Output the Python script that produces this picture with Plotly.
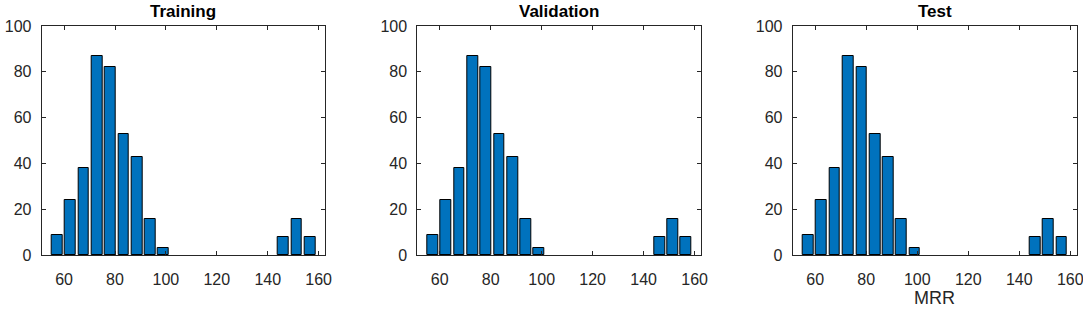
import plotly.graph_objects as go

panel_titles = ["Training", "Validation", "Test"]
bin_centers = [57.3, 62.5, 67.7, 72.9, 78.2, 83.4, 88.6, 93.8, 99.0, 146.2, 151.4, 156.6]
counts_training = [9, 24, 38, 87, 82, 53, 43, 16, 3, 8, 16, 8]
counts_validation = [9, 24, 38, 87, 82, 53, 43, 16, 3, 8, 16, 8]
counts_test = [9, 24, 38, 87, 82, 53, 43, 16, 3, 8, 16, 8]
x_ticks = [60, 80, 100, 120, 140, 160]
y_ticks = [0, 20, 40, 60, 80, 100]
x_label = "MRR"

W, H = 1083, 319

def fx(px):
    return px / W

def fy(py):
    return 1 - py / H

fig = go.Figure()

panels = [
    (counts_training, (41.7, 325.0)),
    (counts_validation, (417.3, 701.0)),
    (counts_test, (792.7, 1076.7)),
]
top_px, bot_px = 26.0, 255.3
ydom = [fy(bot_px), fy(top_px)]
axcol = "#262626"
font_family = "Liberation Sans, Arial, sans-serif"

for i, (counts, (l, r)) in enumerate(panels):
    n = "" if i == 0 else str(i + 1)
    fig.add_trace(go.Bar(
        x=bin_centers, y=counts, width=4.2,
        marker=dict(color="#0072BD", line=dict(color="#000000", width=1)),
        xaxis="x" + n, yaxis="y" + n, showlegend=False,
    ))
    common = dict(showline=True, linecolor=axcol, linewidth=1, mirror="allticks",
                  ticks="inside", ticklen=4, tickcolor=axcol, tickwidth=1,
                  showgrid=False, zeroline=False, automargin=False,
                  ticklabeloverflow="allow",
                  tickfont=dict(family=font_family, size=16, color=axcol))
    fig.update_layout(**{
        "xaxis" + n: dict(domain=[fx(l), fx(r)], range=[51.2, 162.5], tickvals=x_ticks,
                          anchor="y" + n, ticklabelstandoff=9, **common),
        "yaxis" + n: dict(domain=ydom, range=[0, 100], tickvals=y_ticks,
                          anchor="x" + n, ticklabelstandoff=6, **common),
    })
    fig.add_annotation(text="<b>" + panel_titles[i] + "</b>", xref="paper", yref="paper",
                       x=(fx(l) + fx(r)) / 2, y=fy(12), xanchor="center", yanchor="middle",
                       showarrow=False, font=dict(family=font_family, size=17, color="#000000"))

fig.add_annotation(text=x_label, xref="paper", yref="paper",
                   x=(fx(792.7) + fx(1076.7)) / 2, y=fy(298), xanchor="center", yanchor="middle",
                   showarrow=False, font=dict(family=font_family, size=18, color=axcol))

fig.update_layout(template="none", width=W, height=H, margin=dict(l=0, r=0, t=0, b=0, pad=0),
                  plot_bgcolor="white", paper_bgcolor="white", bargap=0)
fig.write_html("out.html", config={"displayModeBar": False},
               post_script="document.body.style.margin='0px';")
